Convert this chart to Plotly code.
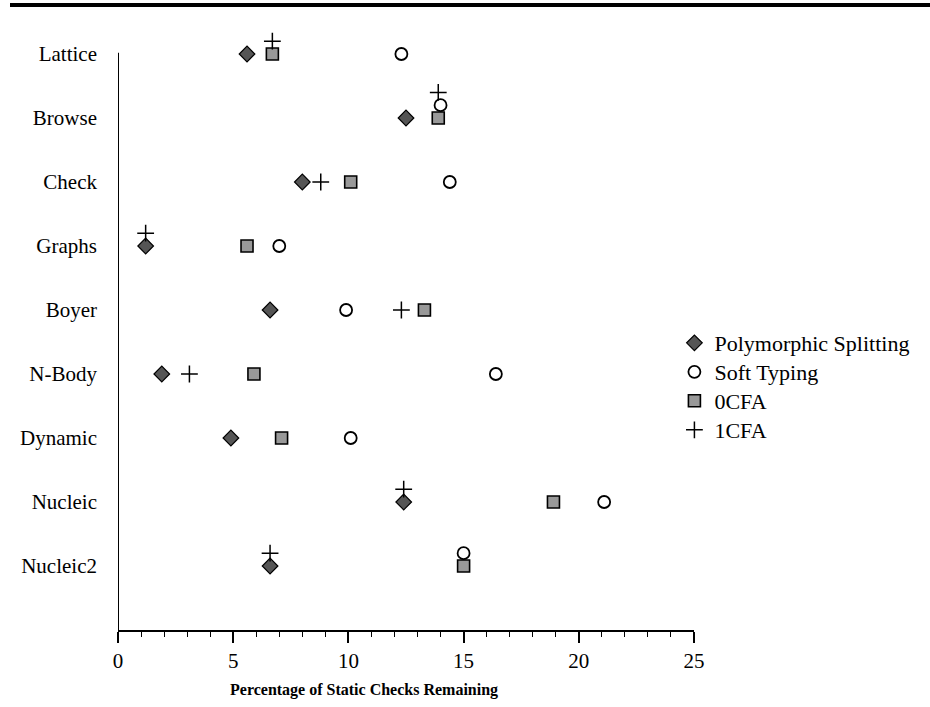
import plotly.graph_objects as go

categories = ["Lattice", "Browse", "Check", "Graphs", "Boyer", "N-Body", "Dynamic", "Nucleic", "Nucleic2"]

poly_split = [5.6, 12.5, 8.0, 1.2, 6.6, 1.9, 4.9, 12.4, 6.6]
soft_typing = [12.3, 14.0, 14.4, 7.0, 9.9, 16.4, 10.1, 21.1, 15.0]
cfa0 = [6.7, 13.9, 10.1, 5.6, 13.3, 5.9, 7.1, 18.9, 15.0]
cfa1 = [6.7, 13.9, 8.8, 1.2, 12.3, 3.1, None, 12.4, 6.6]

# vertical lift (in rows) used in the original to keep overlapping markers visible
lift_poly = [0, 0, 0, 0, 0, 0, 0, 0, 0]
lift_soft = [0, 0.2, 0, 0, 0, 0, 0, 0, 0.2]
lift_cfa0 = [0, 0, 0, 0, 0, 0, 0, 0, 0]
lift_cfa1 = [0.2, 0.4, 0, 0.2, 0, 0, 0, 0.2, 0.2]

x_ticks = [0, 5, 10, 15, 20, 25]
x_title = "Percentage of Static Checks Remaining"

rows = list(range(len(categories)))

def ypos(lift):
    return [r - l for r, l in zip(rows, lift)]

FONT = "Liberation Serif, Times New Roman, serif"

L, T, W, H = 118, 30, 576, 600

fig = go.Figure()
series = [
    ("Polymorphic Splitting", poly_split, lift_poly,
     dict(symbol="diamond", size=12, color="#555555", line=dict(color="black", width=1.2))),
    ("Soft Typing", soft_typing, lift_soft,
     dict(symbol="circle", size=12, color="white", line=dict(color="black", width=1.8))),
    ("0CFA", cfa0, lift_cfa0,
     dict(symbol="square", size=12, color="#999999", line=dict(color="black", width=1.6))),
    ("1CFA", cfa1, lift_cfa1,
     dict(symbol="cross-thin", size=12, color="black", line=dict(color="black", width=1.5))),
]
legend_ids = ["legend", "legend2", "legend3", "legend4"]
legend_tops = [322, 351, 380, 409]  # pixel tops of the legend rows

legend_layout = {}
for (name, vals, lift, marker), lid, top in zip(series, legend_ids, legend_tops):
    fig.add_trace(go.Scatter(
        x=vals, y=ypos(lift), mode="markers", name=name, marker=marker,
        legend=lid, cliponaxis=False,
    ))
    legend_layout[lid] = dict(
        x=0.966, y=1 - (top - T) / H, xanchor="left", yanchor="top",
        font=dict(family=FONT, size=22, color="black"),
        itemwidth=30, bgcolor="rgba(0,0,0,0)",
    )

fig.update_layout(
    width=930, height=707,
    margin=dict(l=L, r=930 - L - W, t=T, b=707 - T - H),
    plot_bgcolor="white", paper_bgcolor="white",
    font=dict(family=FONT, size=21, color="black"),
    showlegend=True,
    xaxis=dict(range=[0, 25], tickvals=x_ticks, ticktext=[str(v) for v in x_ticks],
               showgrid=False, zeroline=False, showline=True, linecolor="black", linewidth=2,
               ticks="outside", ticklen=11, tickwidth=1.5, tickcolor="black",
               minor=dict(dtick=1, ticks="outside", ticklen=5, tickwidth=1.2, tickcolor="black"),
               tickfont=dict(family=FONT, size=21)),
    yaxis=dict(range=[9, -0.375], tickvals=rows, ticktext=categories,
               showgrid=False, zeroline=False, showline=False,
               ticks="", ticklabelstandoff=20,
               tickfont=dict(family=FONT, size=21)),
    annotations=[dict(text="<b>" + x_title + "</b>", xref="paper", yref="paper",
                      x=(228 - L) / W, y=1 - (690 - T) / H, xanchor="left", yanchor="middle",
                      showarrow=False, font=dict(family=FONT, size=16, color="black"))],
    shapes=[
        # y axis line, from the first category row down to the x axis
        dict(type="line", xref="x", yref="y", x0=0, x1=0, y0=-0.02, y1=9,
             line=dict(color="black", width=2)),
        # heavy rule across the top of the page
        dict(type="line", xref="paper", yref="paper",
             x0=(10 - L) / W, x1=(930 - L) / W,
             y0=1 + (T - 5) / H, y1=1 + (T - 5) / H,
             line=dict(color="black", width=4)),
    ],
    **legend_layout,
)

fig.write_html("out.html", config={"displayModeBar": False},
               post_script="document.body.style.margin='0';")
